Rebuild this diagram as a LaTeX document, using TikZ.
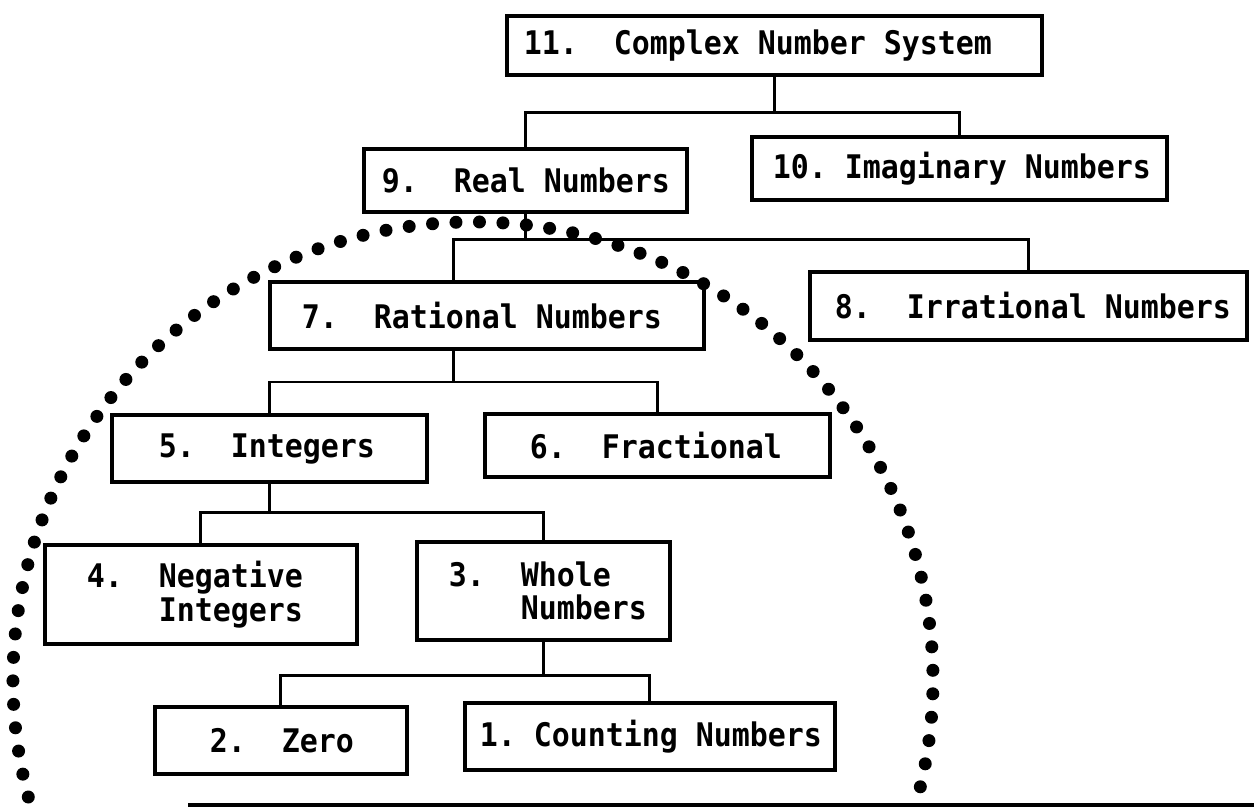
\documentclass[tikz,border=0pt]{standalone}
\usepackage{fontspec}
\setmonofont{DejaVu Sans Mono}[FakeStretch=0.92]
\newcommand{\blank}{\phantom{0}}
\tikzset{
  numbox/.style={draw=black,rectangle,line width=0.075cm,anchor=north west,align=left,
    inner ysep=0pt,font=\ttfamily\bfseries\fontsize{18.5}{19.3}\selectfont},
  link/.style={line width=0.06cm},
}
\begin{document}
\begin{tikzpicture}[x=0.02cm,y=-0.02cm,line join=miter]
    \useasboundingbox (0,0) rectangle (1254,807);
    %% dotted boundary
    \draw [line width=0.26cm,line cap=round,dash pattern=on 0pt off 0.47cm]
      (28.3,797) arc [start angle=165.2,end angle=373.9,x radius=460,y radius=458];
    %%
    \node (11) at (505,14) [numbox,text width=10.02cm,inner xsep=0.34cm,minimum height=1.18cm] {11.\blank\blank Complex\blank Number\blank System};
    \node (9) at (362,147) [numbox,text width=5.74cm,inner xsep=0.36cm,minimum height=1.26cm] {9.\blank\blank Real\blank Numbers};
    \node (10) at (750,135) [numbox,text width=7.46cm,inner xsep=0.42cm,minimum height=1.26cm] {10.\blank Imaginary\blank Numbers};
    \node (8) at (808,270) [numbox,text width=7.74cm,inner xsep=0.5cm,minimum height=1.36cm] {8.\blank\blank Irrational\blank Numbers};
    \node (7) at (268,280) [numbox,text width=7.40cm,inner xsep=0.64cm,minimum height=1.34cm] {7.\blank\blank Rational\blank Numbers};
    \node (5) at (110,413) [numbox,text width=4.42cm,inner xsep=0.94cm,minimum height=1.34cm] {5.\blank\blank Integers};
    \node (6) at (483,412) [numbox,text width=5.10cm,inner xsep=0.90cm,minimum height=1.26cm] {6.\blank\blank Fractional};
    \node (4) at (43,543) [numbox,text width=4.56cm,inner xsep=0.84cm,minimum height=1.98cm] {4.\blank\blank Negative\\\phantom{4.00}Integers};
    \node (3) at (415,540) [numbox,text width=3.78cm,inner xsep=0.64cm,minimum height=1.96cm] {3.\blank\blank Whole\\\phantom{3.00}Numbers};
    \node (2) at (153,705) [numbox,text width=2.84cm,inner xsep=1.10cm,minimum height=1.34cm] {2.\blank\blank Zero};
    \node (1) at (463,701) [numbox,text width=6.80cm,inner xsep=0.30cm,minimum height=1.34cm] {1.\blank Counting\blank Numbers};
    %% bracket levels
    \coordinate (b11) at (0,113);
    \coordinate (b9) at (0,240);
    \coordinate (b7) at (0,382);
    \coordinate (b5) at (0,512);
    \coordinate (b3) at (0,675);
    \coordinate (c7) at (453,0);
    \draw [link] (11.south) -- (11.south |- b11);
    \draw [link] (9.north) |- (10.north |- b11) -- (10.north);
    \draw [link] (9.south) -- (9.south |- b9);
    \draw [link] (c7 |- 7.north) |- (8.north |- b9) -- (8.north);
    \draw [link] (c7 |- 7.south) -- (c7 |- b7);
    \draw [link] (5.north) |- (6.north |- b7) -- (6.north);
    \draw [link] (5.south) -- (5.south |- b5);
    \draw [link] (4.north) |- (3.north |- b5) -- (3.north);
    \draw [link] (3.south) -- (3.south |- b3);
    \draw [link] (2.north) |- (1.north |- b3) -- (1.north);
    %%
    \draw [line width=0.1cm] (188,805) -- (1254,805);
    %
\end{tikzpicture}
\end{document}
